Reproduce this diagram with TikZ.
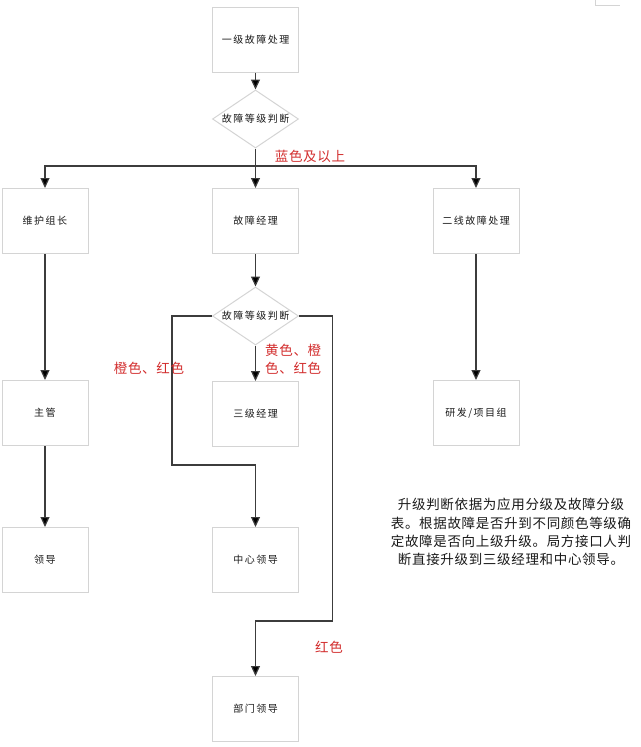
\documentclass[tikz,border=0pt]{standalone}
\usepackage{fontspec}
\newfontfamily\cjk[LetterSpace=15]{Noto Sans CJK SC}
\newfontfamily\cjktag[LetterSpace=5]{Noto Sans CJK SC}
\usepackage{tikz}
\usetikzlibrary{arrows.meta,shapes.geometric}
\tikzset{node distance=10em, auto}
\usetikzlibrary{positioning}
\definecolor{boxline}{RGB}{212,212,212}
\definecolor{flowline}{RGB}{60,60,60}
\definecolor{tagred}{RGB}{210,45,45}
\tikzset{
  box/.style={draw=boxline, line width=1pt, minimum width=86pt, minimum height=65pt,
              inner sep=0pt, text=black!90, font=\cjk\fontsize{10}{12}\selectfont},
  judge/.style={draw=boxline, line width=1pt, shape=diamond, aspect=1.5,
              minimum width=86pt, minimum height=58pt, inner sep=0pt,
              text=black!90, font=\cjk\fontsize{10}{12}\selectfont},
  tag/.style={text=tagred, inner sep=0pt, font=\cjktag\fontsize{13.5}{18}\selectfont},
  note/.style={text=black!90, inner sep=0pt, align=center,
              font=\cjktag\fontsize{13.5}{18.3}\selectfont},
  flow/.style={draw=flowline, line width=1.2pt, -{Triangle[length=10pt,width=9pt,fill=black]}}
}

\begin{document}
\begin{tikzpicture}[x=1pt, y=1pt]
				\useasboundingbox (0,0) rectangle (640,-747);
				\node (A) [box] at (255.5,-39.5)						{一级故障处理};
				\node (B) [judge, below of=A, node distance=79.5pt]	{故障等级判断};
				\node (C) [box, below of=B, node distance=102pt]		{故障经理};
				\node (D) [box, left of=C, node distance=210.5pt]		{维护组长};
				\node (E) [box, right of=C, node distance=220.5pt]		{二线故障处理};
				\node (F) [judge, below of=C, node distance=95pt]		{故障等级判断};
				\node (G) [box, below of=F, node distance=98pt]		{三级经理};
				\node (H) [box, below of=D, node distance=192pt]		{主管};
				\node (I) [box, below of=E, node distance=192pt]		{研发/项目组};
				\node (J) [box, below of=G, node distance=146pt]		{中心领导};
				\node (K) [box, below of=H, node distance=147pt]		{领导};
				\node (L) [box, below of=J, node distance=149pt]		{部门领导};
				\node (S) [coordinate, below of=B, node distance=47pt]	{};
				\coordinate (P) at (172,-465);
				\coordinate (Q) at (332.5,-621);
			  \draw[flow] 				(A)		--  				(B);
			  \draw[flow] 				(B)		--  				(C);
			  \draw[flow] 				(S)		-| 				(D);
			  \draw[flow] 				(S)		-| 				(E);
			  \draw[flow] 				(C)		--  				(F);
			  \draw[flow] 				(F)		--  				(G);
			  \draw[flow] 				(F.west)	-| (P)	-| 		(J);
			  \draw[flow] 				(F.east)	-| (Q)	-| 		(L);
			  \draw[flow] 				(D)		--  				(H);
			  \draw[flow] 				(H)		--  				(K);
			  \draw[flow] 				(E)		--  				(I);
				\node (T1) [tag] at (310,-156)							{蓝色及以上};
				\node (T2) [tag] at (149,-368)							{橙色、红色};
				\node (T3) [tag, align=left, anchor=north west] at (265,-344)	{黄色、橙\\色、红色};
				\node (T4) [tag] at (329,-647)							{红色};
				\node (N) [note] at (511,-532)	{升级判断依据为应用分级及故障分级\\表。根据故障是否升到不同颜色等级确\\定故障是否向上级升级。局方接口人判\\断直接升级到三级经理和中心领导。};
				\draw[boxline, line width=0.8pt] (595,0) -- (595,-5) -- (620,-5);
\end{tikzpicture}
\end{document}
